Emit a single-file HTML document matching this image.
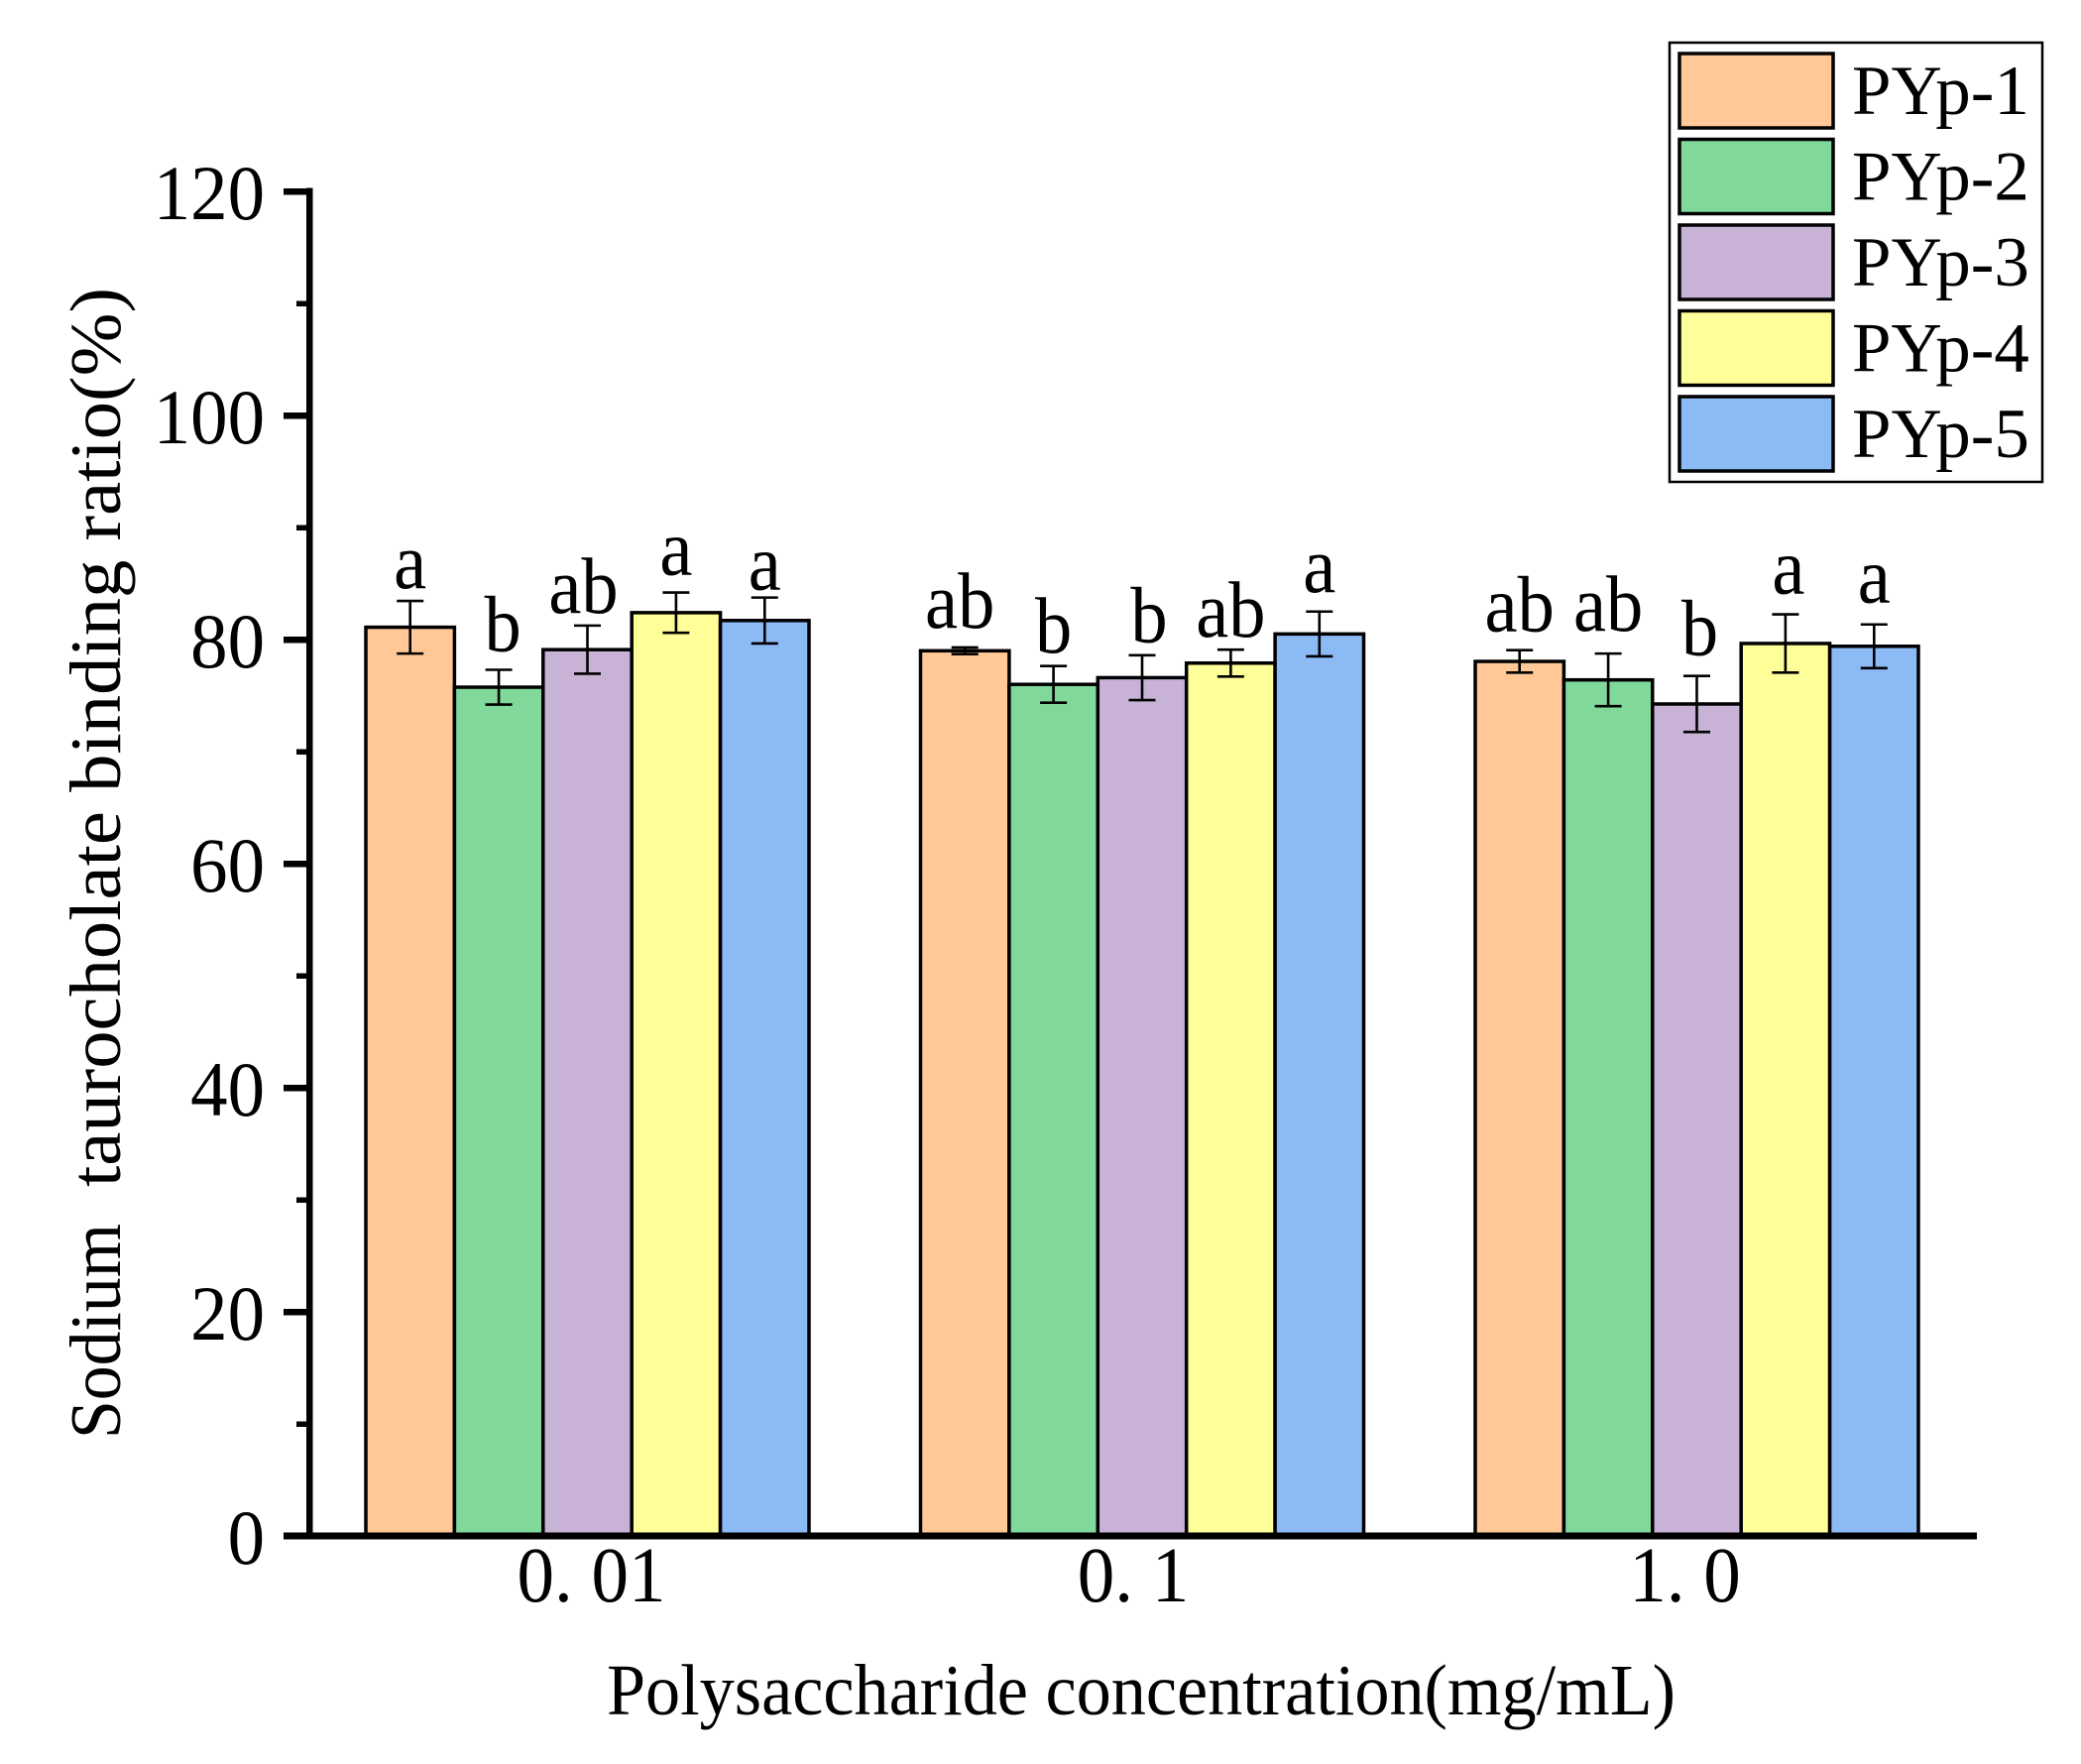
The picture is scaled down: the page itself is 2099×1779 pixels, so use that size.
<!DOCTYPE html>
<html lang="en">
<head>
<meta charset="utf-8">
<title>Sodium taurocholate binding ratio</title>
<style>
  html, body { margin: 0; padding: 0; background: #fff; }
  svg { display: block; }
  text { font-family: "Liberation Serif", serif; fill: #000; white-space: pre; }
</style>
</head>
<body>
<svg id="chart" xmlns="http://www.w3.org/2000/svg" width="2099" height="1779" viewBox="0 0 2099 1779"></svg>
<script>
const categories = ['0. 01', '0. 1', '1. 0'];
const seriesNames = ['PYp-1', 'PYp-2', 'PYp-3', 'PYp-4', 'PYp-5'];
const seriesColors = ['#FFC896', '#80D99A', '#C8B3D7', '#FFFF99', '#8CBAF5'];
const valuesPYp1 = [81.1, 79.0, 78.05];
const valuesPYp2 = [75.75, 76.0, 76.4];
const valuesPYp3 = [79.1, 76.6, 74.25];
const valuesPYp4 = [82.4, 77.9, 79.65];
const valuesPYp5 = [81.7, 80.5, 79.4];
const errorsPYp1 = [2.35, 0.3, 1.0];
const errorsPYp2 = [1.55, 1.64, 2.35];
const errorsPYp3 = [2.15, 2.0, 2.5];
const errorsPYp4 = [1.8, 1.2, 2.6];
const errorsPYp5 = [2.05, 2.0, 1.95];
const lettersPYp1 = ['a', 'ab', 'ab'];
const lettersPYp2 = ['b', 'b', 'ab'];
const lettersPYp3 = ['ab', 'b', 'b'];
const lettersPYp4 = ['a', 'ab', 'a'];
const lettersPYp5 = ['a', 'a', 'a'];
const letterGapsPYp1 = [1.15, 1.75, 1.7];
const letterGapsPYp2 = [1.7, 1.2, 2.05];
const letterGapsPYp3 = [1.15, 1.2, 1.9];
const letterGapsPYp4 = [1.6, 1.15, 1.85];
const letterGapsPYp5 = [0.7, 1.75, 1.95];
const yTickLabels = [0, 20, 40, 60, 80, 100, 120];

const allValues = [valuesPYp1, valuesPYp2, valuesPYp3, valuesPYp4, valuesPYp5];
const allErrors = [errorsPYp1, errorsPYp2, errorsPYp3, errorsPYp4, errorsPYp5];
const allLetters = [lettersPYp1, lettersPYp2, lettersPYp3, lettersPYp4, lettersPYp5];
const allGaps = [letterGapsPYp1, letterGapsPYp2, letterGapsPYp3, letterGapsPYp4, letterGapsPYp5];

const svg = document.getElementById('chart');
const NS = 'http://www.w3.org/2000/svg';

function make(tag, attrs, parent, content) {
  const el = document.createElementNS(NS, tag);
  for (const k in attrs) el.setAttribute(k, attrs[k]);
  if (content !== undefined) el.textContent = content;
  (parent || svg).appendChild(el);
  return el;
}

// text stretched tall the way the reference's glyphs are
function tallText(x, y, size, sx, anchor, content) {
  return make('text', { transform: 'translate(' + x + ' ' + y + ') scale(' + sx + ' 1)', 'font-size': size, 'text-anchor': anchor }, svg, content);
}

function yScale(v) { return 1549 - v * 11.3; }
const GROUP_START = 369;
const GROUP_PITCH = 559.5;
const BAR_W = 89.4;
function barLeft(groupIndex, seriesIndex) {
  return GROUP_START + groupIndex * GROUP_PITCH + seriesIndex * BAR_W;
}
function groupCenter(groupIndex) {
  return barLeft(groupIndex, 0) + BAR_W * seriesNames.length / 2;
}
function letterNudge(s, g) {
  if (s === 1 && g === 0) return 4;
  if (s === 2 && g === 0) return -4;
  if (s === 0 && g === 1) return -5;
  if (s === 2 && g === 1) return 7;
  if (s === 3 && g === 2) return 3;
  if (s === 2 && g === 2) return 3;
  return 0;
}

// bars
allValues.forEach(function (vals, s) {
  vals.forEach(function (v, g) {
    const bar = make('rect', { x: barLeft(g, s), y: yScale(v), width: BAR_W, height: yScale(0) - yScale(v), fill: seriesColors[s], stroke: '#000', 'stroke-width': 3.5 });
    
    
  });
});

// error bars and significance letters
allValues.forEach(function (vals, s) {
  vals.forEach(function (v, g) {
    const cx = barLeft(g, s) + BAR_W / 2;
    const top = yScale(v + allErrors[s][g]);
    const bot = yScale(v - allErrors[s][g]);
    const eg = make('path', { d: 'M' + cx + ' ' + top + 'V' + bot + 'M' + (cx - 13.5) + ' ' + top + 'H' + (cx + 13.5) + 'M' + (cx - 13.5) + ' ' + bot + 'H' + (cx + 13.5), fill: 'none', stroke: '#000', 'stroke-width': 2.6 });
    
    
    const lt = tallText(cx + letterNudge(s, g), yScale(v + allErrors[s][g] + allGaps[s][g]), 81, 0.92, 'middle', allLetters[s][g]);
    
    
  });
});

// y axis
const yAxisLine = make('rect', { x: 309, y: yScale(120) - 3.5, width: 6.5, height: yScale(0) - yScale(120) + 7, fill: '#000' });


yTickLabels.forEach(function (t, i) {
  const y = yScale(t);
  const tick = make('rect', { x: 286, y: y - 3, width: 26, height: 6.5, fill: '#000' });
  
  
  const lab = tallText(267, y + 28, 78, 0.96, 'end', String(t));
  
  
  if (i < yTickLabels.length - 1) {
    const midValue = (t + yTickLabels[i + 1]) / 2;
    const minor = make('rect', { x: 299, y: yScale(midValue) - 2.5, width: 13, height: 5.5, fill: '#000' });
    
    
  }
});

// x axis
const xAxisLine = make('rect', { x: 286, y: yScale(0) - 3.5, width: 1708, height: 7, fill: '#000' });


const labelNudge = function (i) { return i === 0 ? 4 : (i === 1 ? -9 : -12); };
categories.forEach(function (c, i) {
  const lab = tallText(groupCenter(i) + labelNudge(i), 1615, 79, 0.95, 'middle', c);
  
  
});

// axis titles
const xTitle = make('text', { x: 612, y: 1729, 'font-size': 73, textLength: 1078, lengthAdjust: 'spacingAndGlyphs' }, svg, 'Polysaccharide concentration(mg/mL)');


const yTitleGroup = make('g', { transform: 'translate(121 0) rotate(-90)' });


const yTitleFirst = make('text', { x: -1451, y: 0, 'font-size': 73, textLength: 217, lengthAdjust: 'spacingAndGlyphs' }, yTitleGroup, 'Sodium');


const yTitleRest = make('text', { x: -1197, y: 0, 'font-size': 73, textLength: 907, lengthAdjust: 'spacingAndGlyphs' }, yTitleGroup, 'taurocholate binding ratio(%)');



// legend
const legendBox = make('rect', { x: 1684, y: 43, width: 376, height: 443, fill: '#fff', stroke: '#000', 'stroke-width': 2.5 });


seriesNames.forEach(function (name, i) {
  const y = 54 + i * 86.5;
  const sw = make('rect', { x: 1694, y: y, width: 155, height: 75, fill: seriesColors[i], stroke: '#000', 'stroke-width': 3.5 });
  
  
  const lab = make('text', { x: 1868, y: y + 61, 'font-size': 71 }, svg, name);
  
  
});
</script>
</body>
</html>
